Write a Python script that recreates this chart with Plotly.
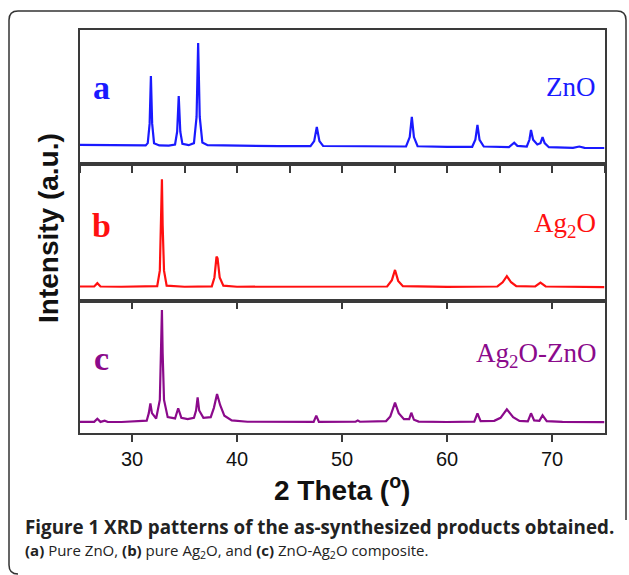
import plotly.graph_objects as go

W, H = 629, 575

# ---------------- data ----------------
zno_x = [25, 27, 29, 31.3, 31.5, 31.68, 31.8, 31.92, 32.1, 32.6, 33.5, 34.1, 34.3, 34.45, 34.6, 34.8,
         35.4, 35.9, 36.15, 36.3, 36.45, 36.7, 37.2, 40, 44, 47.0, 47.35, 47.6, 47.85, 48.2,
         52, 56.1, 56.45, 56.65, 56.85, 57.2, 60, 62.4, 62.7, 62.9, 63.1, 63.5,
         65.9, 66.4, 66.7, 67.6, 67.85, 68.0, 68.2, 68.6, 68.9, 69.1, 69.3, 69.7,
         72, 72.6, 73.1, 75]
zno_y = [14.2, 14.0, 13.9, 13.8, 15.5, 30, 65.4, 30, 15.5, 13.8, 13.7, 14.5, 24, 50.6, 24, 15,
         14, 15.5, 35, 90, 35, 16, 14, 13.6, 13.3, 13.3, 17, 27.5, 17, 13.4,
         13.0, 13.0, 20, 35, 20, 13.2, 12.8, 12.8, 18, 29, 18, 13,
         12.6, 15.8, 13.5, 13.0, 18, 25.3, 18, 14.5, 15.5, 20, 15.5, 12.5,
         12.0, 13.0, 12.0, 11.9]

ag2o_x = [25, 26.4, 26.7, 27.0, 29, 31, 32.4, 32.65, 32.78, 32.85, 32.92, 33.05, 33.3, 35,
          37.6, 37.85, 38.05, 38.15, 38.35, 38.7, 40, 45, 50, 54.3, 54.75, 55.05, 55.35, 55.8,
          60, 64.8, 65.3, 65.7, 66.1, 66.6, 68.4, 68.9, 69.4, 72, 75]
ag2o_y = [10.4, 10.4, 12.8, 10.4, 10.2, 10.3, 10.6, 22, 55, 88.8, 55, 22, 11, 10.2,
          10.5, 17, 32.2, 31, 17, 11, 10.2, 10.1, 10.1, 10.4, 15, 22.5, 14.5, 10.6,
          10.1, 10.4, 13.5, 18, 13.5, 10.6, 10.4, 13.2, 10.4, 10.1, 10.0]

comp_x = [25, 26.4, 26.7, 27.0, 27.4, 27.7, 29, 30.5, 31.4, 31.6, 31.75, 31.9, 32.3, 32.65, 32.78,
          32.85, 32.92, 33.05, 33.4, 34.1, 34.4, 34.7, 35.3, 35.9, 36.1, 36.25, 36.4, 36.8,
          37.5, 37.8, 38.1, 38.4, 38.8, 39.5, 41, 45, 47.3, 47.55, 47.8, 51.3, 51.5, 51.7,
          54.2, 54.6, 55.05, 55.4, 55.9, 56.4, 56.6, 56.85, 57.3, 60, 62.6, 62.9, 63.2,
          64.5, 65.1, 65.7, 66.3, 66.9, 67.7, 68.0, 68.3, 68.8, 69.1, 69.5, 71, 75]
comp_y = [8.4, 8.4, 10.8, 8.4, 9.3, 8.3, 8.3, 8.6, 9.3, 15, 22.4, 15, 11, 25, 60,
          93, 60, 25, 12, 11, 18.7, 11.5, 10.5, 11.5, 17, 27, 17, 11.5,
          12, 19, 29.5, 21, 13, 9.5, 8.5, 8.3, 8.4, 13.1, 8.4, 8.5, 9.5, 8.5,
          9.0, 12.5, 22.9, 15, 10.5, 10.5, 15.3, 10, 8.6, 8.3, 8.6, 14.9, 9,
          9.2, 11.5, 17.9, 12, 9.2, 8.8, 14.9, 9.5, 9.2, 13.4, 9.0, 8.4, 8.2]

major_ticks = [30, 40, 50, 60, 70]
tick_labels = ["30", "40", "50", "60", "70"]
panel_letters = ["a", "b", "c"]
panel_names = ["ZnO", "Ag<sub>2</sub>O", "Ag<sub>2</sub>O-ZnO"]
colors = ["#1a1aff", "#ff1010", "#8b0a8b"]

# ---------------- layout geometry (pixels -> figure fractions) ----------------
def fx(px):
    return px / W

def fy(py):
    return 1 - py / H

x_dom = [fx(79.5), fx(604.5)]
panels_px = [(29.5, 164), (164, 300.7), (300.7, 433)]

fig = go.Figure()
series = [(zno_x, zno_y), (ag2o_x, ag2o_y), (comp_x, comp_y)]
for i, (xs, ys) in enumerate(series):
    n = "" if i == 0 else str(i + 1)
    fig.add_trace(go.Scatter(x=xs, y=ys, mode="lines", xaxis="x" + n, yaxis="y" + n,
                             line=dict(color=colors[i], width=2.2), showlegend=False,
                             hoverinfo="skip"))

axcol = "#3a3a3a"
layout = dict(width=W, height=H, margin=dict(l=0, r=0, t=0, b=0),
              paper_bgcolor="white", plot_bgcolor="white", showlegend=False)
for i, (top, bot) in enumerate(panels_px):
    n = "" if i == 0 else str(i + 1)
    xa = dict(domain=x_dom, range=[25, 75], anchor="y" + n, showline=True, mirror=True,
              linecolor=axcol, linewidth=1.5, showgrid=False, zeroline=False,
              ticks="outside", ticklen=7, tickwidth=1.5, tickcolor=axcol,
              tickvals=major_ticks, ticktext=tick_labels,
              showticklabels=(i == 2), tickfont=dict(family="Liberation Sans", size=20, color="#111"),
              automargin=False)
    if i == 0:
        xa["minor"] = dict(dtick=5, tick0=25, ticks="outside", ticklen=7, tickwidth=1.5, tickcolor=axcol)
    if i > 0:
        xa["matches"] = "x"
    ya = dict(domain=[fy(bot), fy(top)], range=[0, 100], anchor="x" + n, showline=True, mirror=True,
              linecolor=axcol, linewidth=1.5, showgrid=False, zeroline=False,
              showticklabels=False, ticks="", automargin=False)
    layout["xaxis" + n] = xa
    layout["yaxis" + n] = ya
fig.update_layout(**layout)

# panel labels
letter_y = [57, 55, 56]
name_y = [57, 55.5, 59]
for i in range(3):
    n = "" if i == 0 else str(i + 1)
    fig.add_annotation(x=27.1, y=letter_y[i], xref="x" + n, yref="y" + n, text="<b>%s</b>" % panel_letters[i],
                       showarrow=False, font=dict(family="Liberation Serif", size=34, color=colors[i]),
                       xanchor="center", yanchor="middle")
    fig.add_annotation(x=74.4, y=name_y[i], xref="x" + n, yref="y" + n, text=panel_names[i],
                       showarrow=False, font=dict(family="Liberation Serif", size=27, color=colors[i]),
                       xanchor="right", yanchor="middle")

# axis titles
fig.add_annotation(x=fx(342), y=fy(488), xref="paper", yref="paper", text="<b>2 Theta (<sup>o</sup>)</b>",
                   showarrow=False, font=dict(family="Liberation Sans", size=28, color="#111"),
                   xanchor="center", yanchor="middle")
fig.add_annotation(x=fx(48), y=fy(228), xref="paper", yref="paper", text="<b>Intensity (a.u.)</b>",
                   showarrow=False, textangle=-90, font=dict(family="Liberation Sans", size=28, color="#111"),
                   xanchor="center", yanchor="middle")

# caption
fig.add_annotation(x=fx(23), y=fy(527), xref="paper", yref="paper",
                   text="<b>Figure 1 XRD patterns of the as-synthesized products obtained.</b>",
                   showarrow=False, font=dict(family="Open Sans", size=18.8, color="#222"),
                   xanchor="left", yanchor="middle")
fig.add_annotation(x=fx(23), y=fy(551), xref="paper", yref="paper",
                   text="<b>(a)</b> Pure ZnO, <b>(b)</b> pure Ag<sub>2</sub>O, and <b>(c)</b> ZnO-Ag<sub>2</sub>O composite.",
                   showarrow=False, font=dict(family="Open Sans", size=15, color="#222"),
                   xanchor="left", yanchor="middle")

# outer rounded frame
r = 9
L, T, R, B = 9, 11, 626, 574
path = (f"M {fx(R)},{fy(520)} L {fx(R)},{fy(T + r)} Q {fx(R)},{fy(T)} {fx(R - r)},{fy(T)} "
        f"L {fx(L + r)},{fy(T)} Q {fx(L)},{fy(T)} {fx(L)},{fy(T + r)} "
        f"L {fx(L)},{fy(B - r)} Q {fx(L)},{fy(B)} {fx(L + r)},{fy(B)}")
fig.add_shape(type="path", path=path, xref="paper", yref="paper",
              line=dict(color="#333", width=1.5))

fig.write_html("out.html")
